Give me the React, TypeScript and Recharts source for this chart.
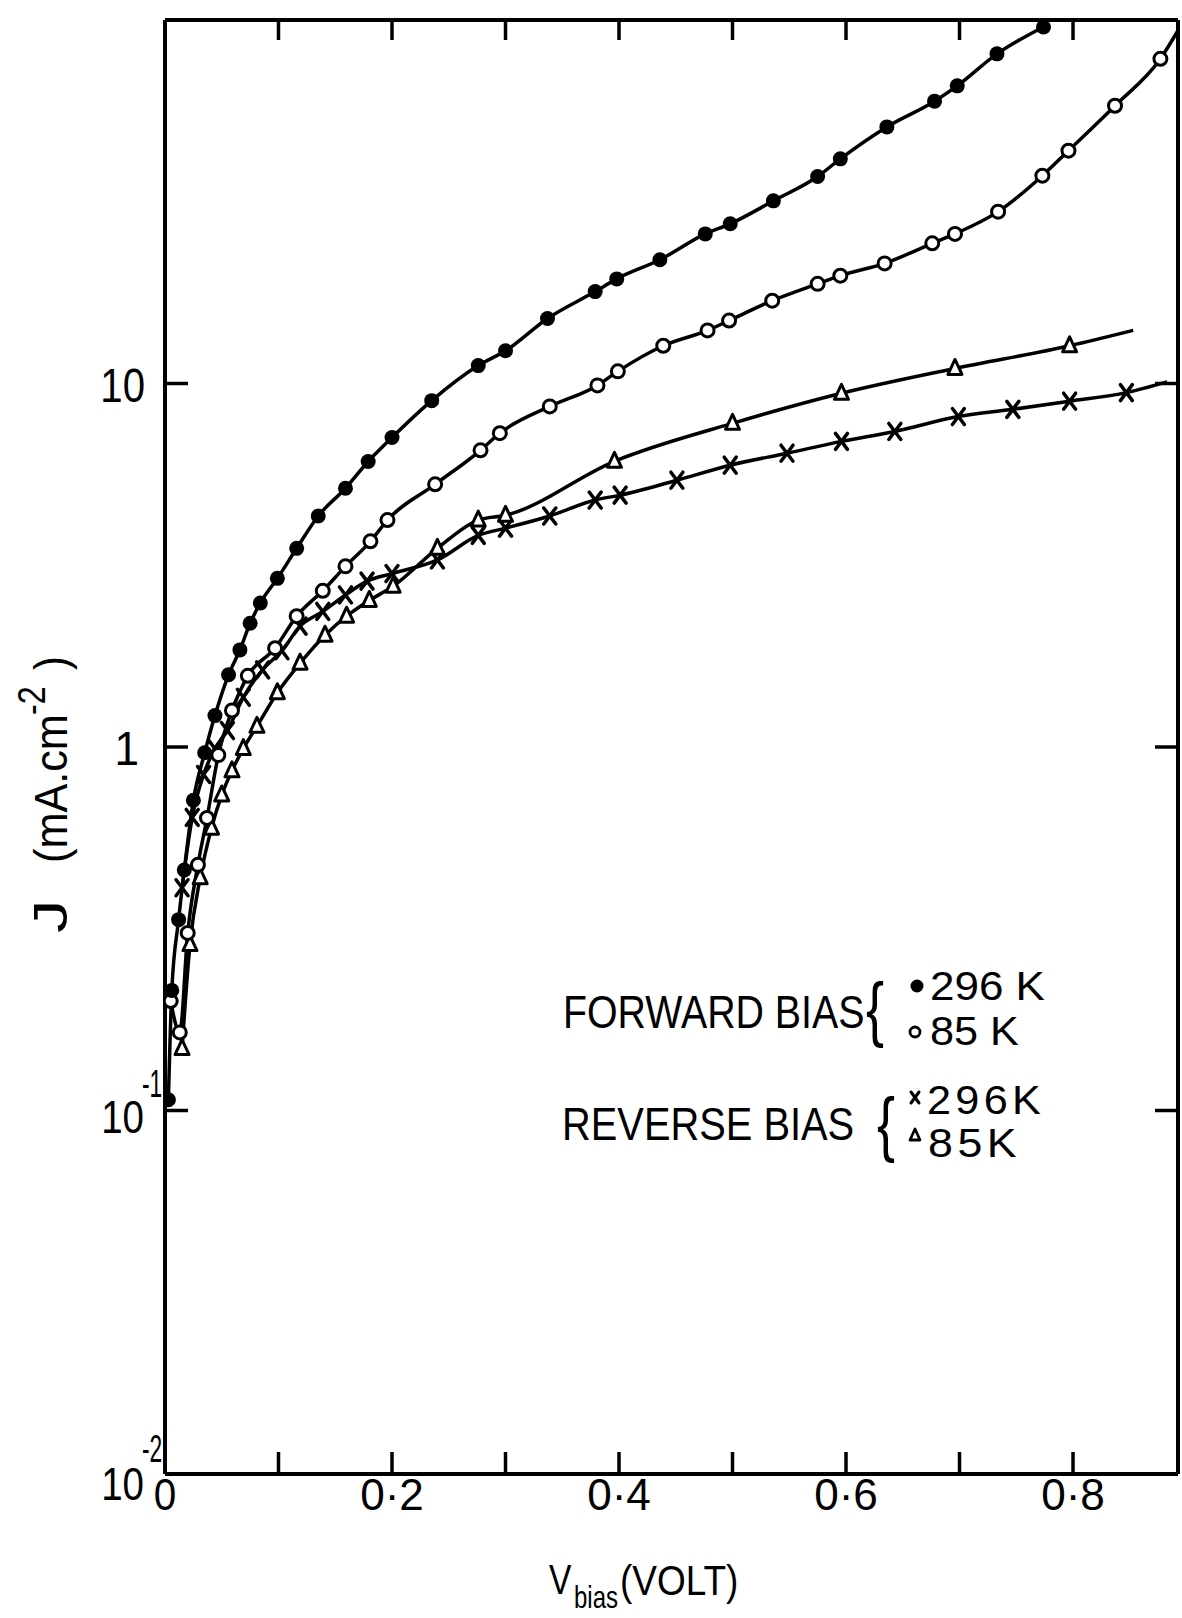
import React from 'react';
import { ComposedChart, Line, Scatter, XAxis, YAxis } from 'recharts';

const FONT = '"Liberation Sans", Arial, sans-serif';

// forward bias 296 K (filled circles)
const fwdHotV = [0.003, 0.006, 0.012, 0.017, 0.025, 0.035, 0.044, 0.056, 0.066, 0.075, 0.084, 0.099, 0.116, 0.135, 0.159, 0.179, 0.2, 0.235, 0.276, 0.3, 0.337, 0.379, 0.398, 0.436, 0.476, 0.498, 0.536, 0.575, 0.595, 0.636, 0.678, 0.698, 0.733, 0.774];
const fwdHotJ = [0.107, 0.214, 0.335, 0.459, 0.714, 0.964, 1.22, 1.58, 1.85, 2.19, 2.49, 2.91, 3.52, 4.32, 5.15, 6.1, 7.1, 8.97, 11.2, 12.3, 15.1, 17.9, 19.4, 21.9, 25.8, 27.5, 31.8, 37.1, 41.5, 50.8, 59.8, 65.9, 80.7, 95.7];

// forward bias 85 K (open circles)
const fwdColdV = [0.005, 0.013, 0.02, 0.029, 0.037, 0.047, 0.059, 0.073, 0.097, 0.116, 0.139, 0.159, 0.181, 0.196, 0.238, 0.278, 0.295, 0.339, 0.381, 0.399, 0.439, 0.478, 0.497, 0.535, 0.575, 0.595, 0.634, 0.676, 0.696, 0.734, 0.773, 0.796, 0.837, 0.877];
const fwdColdJ = [0.2, 0.164, 0.308, 0.474, 0.638, 0.95, 1.26, 1.57, 1.87, 2.29, 2.69, 3.14, 3.68, 4.21, 5.28, 6.55, 7.3, 8.65, 9.88, 10.8, 12.7, 14.0, 14.9, 16.9, 18.8, 19.8, 21.4, 24.3, 25.8, 29.7, 37.3, 43.7, 58.1, 78.2];

// reverse bias 296 K (crosses)
const revHotV = [0.015, 0.024, 0.034, 0.044, 0.055, 0.069, 0.086, 0.103, 0.119, 0.139, 0.159, 0.178, 0.2, 0.24, 0.276, 0.3, 0.339, 0.379, 0.401, 0.451, 0.498, 0.548, 0.596, 0.643, 0.699, 0.747, 0.797, 0.847];
const revHotJ = [0.41, 0.64, 0.84, 0.99, 1.11, 1.37, 1.63, 1.84, 2.15, 2.36, 2.62, 2.86, 3.0, 3.27, 3.82, 4.0, 4.32, 4.78, 4.93, 5.42, 5.96, 6.43, 6.93, 7.38, 8.11, 8.49, 8.94, 9.44];

// reverse bias 85 K (triangles)
const revColdV = [0.015, 0.022, 0.031, 0.041, 0.05, 0.059, 0.069, 0.081, 0.099, 0.119, 0.141, 0.16, 0.18, 0.201, 0.24, 0.276, 0.3, 0.396, 0.5, 0.596, 0.696, 0.797];
const revColdJ = [0.148, 0.286, 0.437, 0.598, 0.738, 0.86, 0.99, 1.14, 1.41, 1.7, 2.03, 2.29, 2.53, 2.77, 3.52, 4.21, 4.34, 6.11, 7.77, 9.4, 11.0, 12.7];

// where the drawn curves stop beyond the last marker (fwd296, fwd85, rev296, rev85)
const curveEndV = [0.774, 0.892, 0.883, 0.853];
const curveEndJ = [95.7, 93, 10.1, 14.0];

const xTicks = [0, 0.1, 0.2, 0.3, 0.4, 0.5, 0.6, 0.7, 0.8];
const xTickLabels = ['0', '', '0·2', '', '0·4', '', '0·6', '', '0·8'];
const yTicks = [0.01, 0.1, 1, 10, 100];

const pts = (vs: number[], js: number[]) => vs.map((v, i) => ({ v, j: js[i] }));
const withEnd = (vs: number[], js: number[], k: number) => {
  const p = pts(vs, js);
  if (curveEndV[k] > vs[vs.length - 1]) p.push({ v: curveEndV[k], j: curveEndJ[k] });
  return p;
};

const W = 1182;
const H = 1618;
// plot box: left 165, top 20, right 1178, bottom 1474 (axes take 10 px each)
const M = { top: 10, right: 0, bottom: 134, left: 155 };

// horizontally squeezed text, the original lettering is narrow
const CText = ({ x, y, sx = 1, size, anchor = 'start', spacing = 0, children }: any) => (
  <text transform={`translate(${x},${y}) scale(${sx},1)`} fontSize={size} textAnchor={anchor}
    letterSpacing={spacing} fontFamily={FONT} fill="#000">
    {children}
  </text>
);

const FilledDot = (p: any) => <circle cx={p.cx} cy={p.cy} r={7.5} fill="#000" />;
const OpenDot = (p: any) => <circle cx={p.cx} cy={p.cy} r={6.5} fill="#fff" stroke="#000" strokeWidth={3} />;
const Cross = (p: any) => (
  <g stroke="#000" strokeWidth={3.5} strokeLinecap="round">
    <line x1={p.cx - 6} y1={p.cy - 8} x2={p.cx + 6} y2={p.cy + 8} />
    <line x1={p.cx + 6} y1={p.cy - 8} x2={p.cx - 6} y2={p.cy + 8} />
  </g>
);
const Tri = (p: any) => (
  <path d={`M${p.cx},${p.cy - 9} L${p.cx + 7},${p.cy + 6} L${p.cx - 7},${p.cy + 6} Z`} fill="#fff" stroke="#000" strokeWidth={3} strokeLinejoin="round" />
);

const BottomTick = (p: any) => {
  const { x, y, payload } = p;
  const i = xTicks.indexOf(payload.value);
  const lbl = xTickLabels[i] || '';
  return (
    <g>
      {payload.value > 0 && <line x1={x} x2={x} y1={y} y2={y - 22} stroke="#000" strokeWidth={3.5} />}
      {lbl && <CText x={x} y={y + 36} sx={lbl.length > 1 ? 0.98 : 0.9} size={45} anchor="middle">{lbl}</CText>}
    </g>
  );
};

const TopTick = (p: any) => {
  const { x, y, payload } = p;
  if (payload.value <= 0) return <g />;
  return <line x1={x} x2={x} y1={y} y2={y + 20} stroke="#000" strokeWidth={3.5} />;
};

const LeftTick = (p: any) => {
  const { x, y, payload } = p;
  const v = payload.value;
  const mark = v > 0.01 && v < 100;
  return (
    <g>
      {mark && <line x1={x} x2={x + 23} y1={y} y2={y} stroke="#000" strokeWidth={3.5} />}
      {v === 10 && <CText x={x - 20} y={y + 18} sx={0.82} size={49} anchor="end">10</CText>}
      {v === 1 && <CText x={x - 26} y={y + 18} sx={0.9} size={49} anchor="end">1</CText>}
      {v === 0.1 && (
        <>
          <CText x={x - 21} y={y + 22} sx={0.82} size={47} anchor="end">10</CText>
          <CText x={x - 23} y={y - 14} sx={0.6} size={38} anchor="start">-1</CText>
        </>
      )}
      {v === 0.01 && (
        <>
          <CText x={x - 21} y={y + 26} sx={0.82} size={47} anchor="end">10</CText>
          <CText x={x - 23} y={y - 12} sx={0.6} size={38} anchor="start">-2</CText>
        </>
      )}
    </g>
  );
};

const RightTick = (p: any) => {
  const { x, y, payload } = p;
  const v = payload.value;
  if (!(v > 0.01 && v < 100)) return <g />;
  return <line x1={x} x2={x - 23} y1={y} y2={y} stroke="#000" strokeWidth={3.5} />;
};

const axisLine = { stroke: '#000', strokeWidth: 4 };
const lineProps = { type: 'monotone' as const, stroke: '#000', strokeWidth: 3.5, dot: false, activeDot: false, isAnimationActive: false };

export default function App() {
  return (
    <div style={{ position: 'absolute', left: 0, top: 0, width: W, height: H, background: '#fff' }}>
      <ComposedChart width={W} height={H} margin={M}>
        <XAxis xAxisId="b" dataKey="v" type="number" domain={[0, 0.8925]} ticks={xTicks} interval={0}
          allowDataOverflow height={10} tickSize={0} tickMargin={0} tickLine={false} axisLine={axisLine} tick={BottomTick} />
        <XAxis xAxisId="t" dataKey="v" orientation="top" type="number" domain={[0, 0.8925]} ticks={xTicks} interval={0}
          allowDataOverflow height={10} tickSize={0} tickMargin={0} tickLine={false} axisLine={axisLine} tick={TopTick} />
        <YAxis yAxisId="l" type="number" scale="log" domain={[0.01, 100]} ticks={yTicks} interval={0}
          allowDataOverflow width={10} tickSize={0} tickMargin={0} tickLine={false} axisLine={axisLine} tick={LeftTick} />
        <YAxis yAxisId="r" orientation="right" type="number" scale="log" domain={[0.01, 100]} ticks={yTicks} interval={0}
          allowDataOverflow width={4} tickSize={0} tickMargin={0} tickLine={false} axisLine={axisLine} tick={RightTick} />

        <Line xAxisId="b" yAxisId="l" data={withEnd(fwdHotV, fwdHotJ, 0)} dataKey="j" {...lineProps} />
        <Line xAxisId="b" yAxisId="l" data={withEnd(fwdColdV, fwdColdJ, 1)} dataKey="j" {...lineProps} />
        <Line xAxisId="b" yAxisId="l" data={withEnd(revHotV, revHotJ, 2)} dataKey="j" {...lineProps} />
        <Line xAxisId="b" yAxisId="l" data={withEnd(revColdV, revColdJ, 3)} dataKey="j" {...lineProps} />

        <Scatter xAxisId="b" yAxisId="l" data={pts(revHotV, revHotJ)} dataKey="j" shape={Cross} isAnimationActive={false} />
        <Scatter xAxisId="b" yAxisId="l" data={pts(revColdV, revColdJ)} dataKey="j" shape={Tri} isAnimationActive={false} />
        <Scatter xAxisId="b" yAxisId="l" data={pts(fwdColdV, fwdColdJ)} dataKey="j" shape={OpenDot} isAnimationActive={false} />
        <Scatter xAxisId="b" yAxisId="l" data={pts(fwdHotV, fwdHotJ)} dataKey="j" shape={FilledDot} isAnimationActive={false} />
      </ComposedChart>

      <svg width={W} height={H} style={{ position: 'absolute', left: 0, top: 0, pointerEvents: 'none' }}>
        {/* axis titles */}
        <CText x={549} y={1594} sx={0.8} size={42}>V</CText>
        <CText x={574} y={1608} sx={0.75} size={32}>bias</CText>
        <CText x={620} y={1595} sx={0.88} size={42}>(VOLT)</CText>

        <g transform="translate(67, 933) rotate(-90)">
          <CText x={0} y={0} sx={1.4} size={48}>J</CText>
          <CText x={70} y={0} sx={0.94} size={46}>(mA.cm</CText>
          <CText x={218} y={-22} sx={0.85} size={38}>-2</CText>
          <CText x={263} y={0} sx={0.9} size={46}>)</CText>
        </g>

        {/* legend */}
        <CText x={563} y={1028} sx={0.855} size={46}>FORWARD BIAS</CText>
        <CText x={866} y={1033} sx={0.75} size={72}>{'{'}</CText>
        <circle cx={917} cy={986} r={6.5} fill="#000" />
        <CText x={930} y={1000} sx={1.1} size={40}>296 K</CText>
        <circle cx={915} cy={1032} r={5} fill="#fff" stroke="#000" strokeWidth={2.8} />
        <CText x={930} y={1045} sx={1.08} size={40}>85 K</CText>

        <CText x={562} y={1140} sx={0.866} size={46}>REVERSE BIAS</CText>
        <CText x={877} y={1148} sx={0.75} size={72}>{'{'}</CText>
        <g stroke="#000" strokeWidth={3} strokeLinecap="round">
          <line x1={911} y1={1092} x2={919} y2={1103} />
          <line x1={919} y1={1092} x2={911} y2={1103} />
        </g>
        <path d="M915,1129 L920,1140 L910,1140 Z" fill="#fff" stroke="#000" strokeWidth={2.8} strokeLinejoin="round" />
        <CText x={927} y={1114} sx={1.08} size={40} spacing={4}>296K</CText>
        <CText x={928} y={1157} sx={1.12} size={40} spacing={4}>85K</CText>
      </svg>
    </div>
  );
}
